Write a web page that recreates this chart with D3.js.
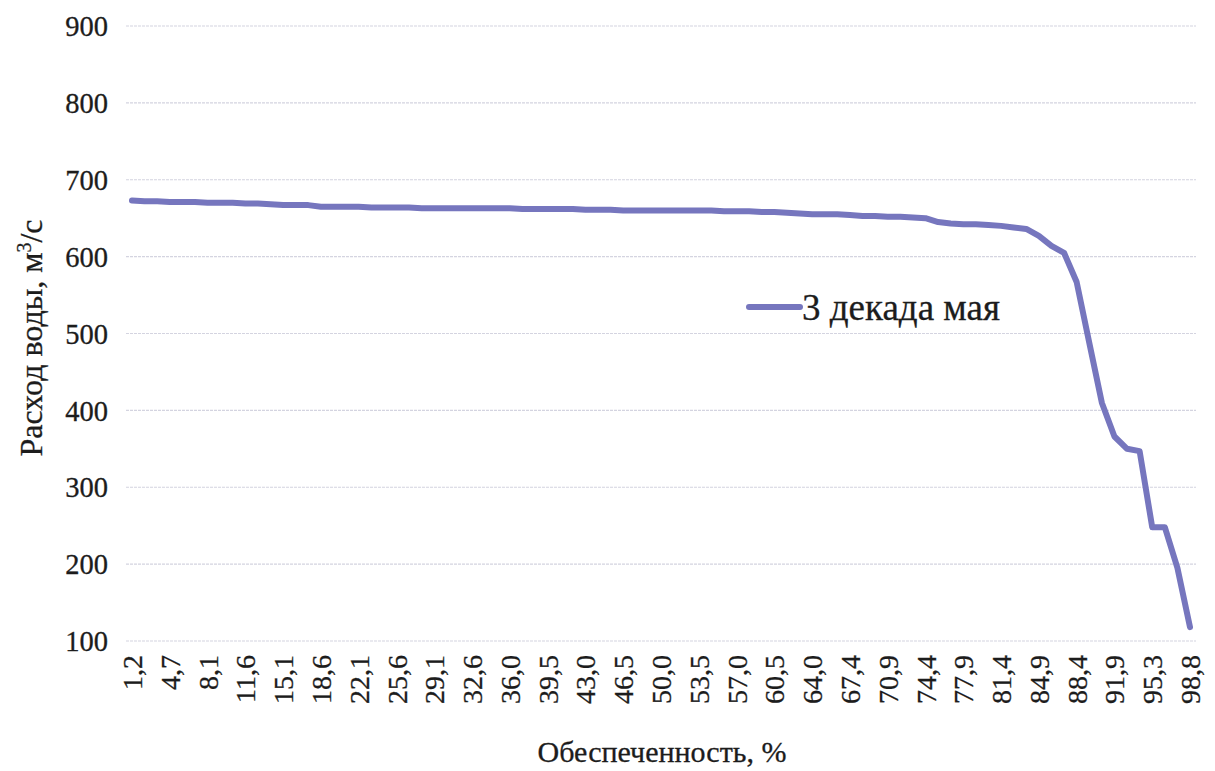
<!DOCTYPE html>
<html>
<head>
<meta charset="utf-8">
<script src="https://cdn.jsdelivr.net/npm/d3@7/dist/d3.min.js"></script>
<style>
  html, body { margin: 0; padding: 0; background: #ffffff; }
  svg { display: block; }
  svg text { font-family: "Liberation Serif", "Times New Roman", serif; fill: #1c1c1c; stroke: #1c1c1c; stroke-width: 0.3px; }
</style>
</head>
<body>
<svg id="chart" width="1215" height="771" font-family="Liberation Serif"></svg>
<script>
// Category labels: обеспеченность, % (85 points)
const categories = [
  "1,2","2,3","3,5","4,7","5,8","7,0","8,1","9,3","10,5","11,6",
  "12,8","14,0","15,1","16,3","17,4","18,6","19,8","20,9","22,1","23,3",
  "24,4","25,6","26,7","27,9","29,1","30,2","31,4","32,6","33,7","34,9",
  "36,0","37,2","38,4","39,5","40,7","41,9","43,0","44,2","45,3","46,5",
  "47,7","48,8","50,0","51,2","52,3","53,5","54,7","55,8","57,0","58,1",
  "59,3","60,5","61,6","62,8","64,0","65,1","66,3","67,4","68,6","69,8",
  "70,9","72,1","73,3","74,4","75,6","76,7","77,9","79,1","80,2","81,4",
  "82,6","83,7","84,9","86,0","87,2","88,4","89,5","90,7","91,9","93,0",
  "94,2","95,3","96,5","97,7","98,8"
];
// Расход воды, м3/с — 3 декада мая
const seriesValues = [
  673,672,672,671,671,671,670,670,670,669,
  669,668,667,667,667,665,665,665,665,664,
  664,664,664,663,663,663,663,663,663,663,
  663,662,662,662,662,662,661,661,661,660,
  660,660,660,660,660,660,660,659,659,659,
  658,658,657,656,655,655,655,654,653,653,
  652,652,651,650,645,643,642,642,641,640,
  638,636,627,614,605,567,488,410,366,350,
  347,248,248,195,118
];
const seriesName = "3 декада мая";
const yTicks = [100,200,300,400,500,600,700,800,900];
const yTitle = "Расход воды, м";
const xTitle = "Обеспеченность, %";

const FONT = "Liberation Serif";
const svg = d3.select("#chart");

const x = d3.scalePoint().domain(d3.range(categories.length)).range([132, 1190]);
const y = d3.scaleLinear().domain([100, 900]).range([641, 26]);

// gridlines
svg.append("g")
  .selectAll("line")
  .data(yTicks)
  .join("line")
  .attr("x1", 126).attr("x2", 1196)
  .attr("y1", d => y(d)).attr("y2", d => y(d))
  .attr("stroke", "#d4d4e0")
  .attr("stroke-width", 1.2)
  .attr("stroke-dasharray", "3,1");

// y axis labels
const yAxis = d3.axisLeft(y).tickValues(yTicks).tickSize(0).tickPadding(0).tickFormat(d3.format("d"));
const gy = svg.append("g").attr("transform", "translate(108,0)").call(yAxis);
gy.attr("font-family", FONT);
gy.select(".domain").remove();
gy.selectAll("text")
  .attr("font-family", FONT)
  .attr("font-size", 28.5)
  .attr("dy", "0.34em");

// x axis labels (every 3rd category)
const xAxis = d3.axisBottom(x)
  .tickValues(d3.range(categories.length).filter(i => i % 3 === 0))
  .tickSize(0).tickPadding(0)
  .tickFormat(i => categories[i]);
const gx = svg.append("g").attr("transform", "translate(0,655)").call(xAxis);
gx.attr("font-family", FONT);
gx.select(".domain").remove();
gx.selectAll("text")
  .attr("font-family", FONT)
  .attr("font-size", 28)
  .attr("text-anchor", "end")
  .attr("transform", "rotate(-90)")
  .attr("x", 0)
  .attr("y", 0)
  .attr("dy", "0.34em");

// line
const line = d3.line()
  .x((d, i) => x(i))
  .y(d => y(d));
svg.append("path")
  .datum(seriesValues)
  .attr("d", line)
  .attr("fill", "none")
  .attr("stroke", "#7676be")
  .attr("stroke-width", 6)
  .attr("stroke-linejoin", "round")
  .attr("stroke-linecap", "round");

// legend
svg.append("line")
  .attr("x1", 749).attr("x2", 800)
  .attr("y1", 307).attr("y2", 307)
  .attr("stroke", "#7676be")
  .attr("stroke-width", 6)
  .attr("stroke-linecap", "round");
svg.append("text")
  .attr("x", 802).attr("y", 307)
  .attr("dy", "0.34em")
  .attr("font-family", FONT)
  .attr("font-size", 37)
  .text(seriesName);

// y title
const yt = svg.append("text")
  .attr("transform", "translate(42,338) rotate(-90)")
  .attr("text-anchor", "middle")
  .attr("font-family", FONT)
  .attr("font-size", 32);
yt.append("tspan").text(yTitle);
yt.append("tspan").attr("baseline-shift", "super").attr("font-size", 20).text("3");
yt.append("tspan").text("/с");

// x title
svg.append("text")
  .attr("x", 662).attr("y", 762)
  .attr("text-anchor", "middle")
  .attr("font-family", FONT)
  .attr("font-size", 30)
  .text(xTitle);
</script>
</body>
</html>
